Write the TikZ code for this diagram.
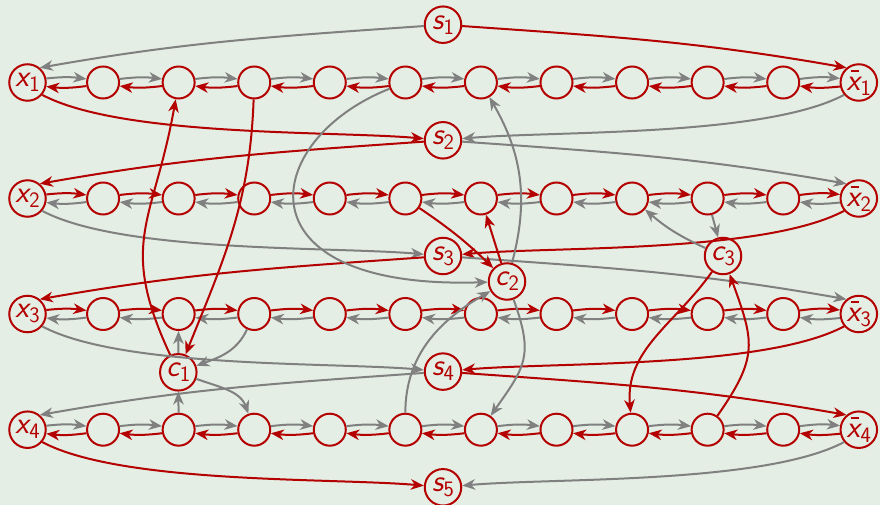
\documentclass[tikz,border=0pt]{standalone}
\usepackage{fontspec}
\usetikzlibrary{arrows.meta}
\definecolor{bg}{RGB}{228,238,228}
\definecolor{myred}{RGB}{180,0,0}
\definecolor{mygray}{RGB}{128,128,128}
\newcommand{\lx}[2]{#1\kern0.5pt\raisebox{-5pt}{\upshape\fontsize{22}{22}\selectfont #2}}
\newcommand{\xbr}{\makebox[0pt][l]{\hspace{0.13em}\rule[0.6em]{0.27em}{0.065em}}x}
\tikzset{
  vert/.style={circle,draw=myred,line width=2pt,fill=bg,minimum size=32pt,inner sep=0pt,
    text=myred,font=\fontsize{31}{31}\selectfont\sffamily\slshape},
  lvert/.style={vert,minimum size=36.5pt},
  ed/.style={line width=2pt,-{Stealth[length=13pt,width=10.5pt,inset=4pt]}},
  re/.style={ed,draw=myred},
  ge/.style={ed,draw=mygray}
}
\begin{document}
\begin{tikzpicture}[x=1pt,y=1pt]
\fill[bg] (0,-505) rectangle (880,0);
\useasboundingbox (0,-505) rectangle (880,0);
% variable rows
\foreach \r/\y in {1/82.5,2/198.5,3/314,4/429.7}{
  \foreach \c in {1,...,10}{
    \node[vert] (n\r-\c) at ({27.5+75.57*\c},-\y) {};
  }
  \node[lvert] (n\r-0) at (27.5,-\y) {\lx{x}{\r}};
  \node[lvert] (n\r-11) at (858.8,-\y) {\lx{\xbr}{\r}};
}
% s nodes
\foreach \i/\y in {1/24.7,2/140.3,3/256,4/371.6,5/487.3}{
  \node[lvert] (s\i) at (443,-\y) {\lx{s}{\i}};
}
% clause nodes
\node[lvert] (c1) at (178.3,-372.3) {\lx{c}{1}};
\node[lvert] (c2) at (507,-281.5) {\lx{c}{2}};
\node[lvert] (c3) at (723,-256) {\lx{c}{3}};
% row arrows
\foreach \r/\fc/\bc in {1/ge/re,2/re/ge,3/re/ge,4/ge/re}{
  \foreach \c in {0,...,10}{
    \pgfmathtruncatemacro\d{\c+1}
    \draw[\fc] (n\r-\c.12) to[bend left=7] (n\r-\d.168);
    \draw[\bc] (n\r-\d.192) to[bend left=7] (n\r-\c.-12);
  }
}
% s edges
\draw[ge] (s1) to[out=184,in=10] (n1-0.50);
\draw[re] (s1) to[out=-4,in=170] (n1-11.130);
\draw[re] (n1-0.-40) to[out=-28,in=175,looseness=0.6] (s2);
\draw[ge] (n1-11.-140) to[out=-152,in=5,looseness=0.6] (s2);
\draw[re] (s2) to[out=184,in=10] (n2-0.50);
\draw[ge] (s2) to[out=-4,in=170] (n2-11.130);
\draw[ge] (n2-0.-40) to[out=-28,in=175,looseness=0.6] (s3);
\draw[re] (n2-11.-140) to[out=-152,in=5,looseness=0.6] (s3);
\draw[re] (s3) to[out=184,in=10] (n3-0.50);
\draw[ge] (s3) to[out=-4,in=170] (n3-11.130);
\draw[ge] (n3-0.-40) to[out=-28,in=175,looseness=0.6] (s4);
\draw[re] (n3-11.-140) to[out=-152,in=5,looseness=0.6] (s4);
\draw[ge] (s4) to[out=184,in=10] (n4-0.50);
\draw[re] (s4) to[out=-4,in=170] (n4-11.130);
\draw[re] (n4-0.-40) to[out=-28,in=175,looseness=0.6] (s5);
\draw[ge] (n4-11.-140) to[out=-152,in=5,looseness=0.6] (s5);
% clause c1
\draw[re] (c1) to[out=115,in=-100,looseness=1.25] (n1-2);
\draw[re] (n1-3) to[out=-92,in=68] (c1);
\draw[ge] (c1) -- (n3-2);
\draw[ge] (n3-3) to[out=-115,in=20] (c1);
\draw[ge] (n4-2) -- (c1);
\draw[ge] (c1) to[out=-20,in=110] (n4-3);
% clause c2
\draw[re] (n2-5) to[bend left=5] (c2);
\draw[re] (c2) -- (n2-6);
\draw[ge] (n1-5) .. controls (260,-140) and (235,-290) .. (c2);
\draw[ge] (c2) to[out=75,in=-60] (n1-6);
\draw[ge] (n4-5) to[out=90,in=-150] (c2);
\draw[ge] (c2) to[out=-70,in=55,looseness=1.3] (n4-6);
% clause c3
\draw[ge] (n2-9) -- (c3);
\draw[ge] (c3) to[bend left=8] (n2-8);
\draw[re] (c3) to[out=-125,in=95] (n4-8);
\draw[re] (n4-9) to[out=55,in=-70,looseness=1.3] (c3);
\end{tikzpicture}
\end{document}
